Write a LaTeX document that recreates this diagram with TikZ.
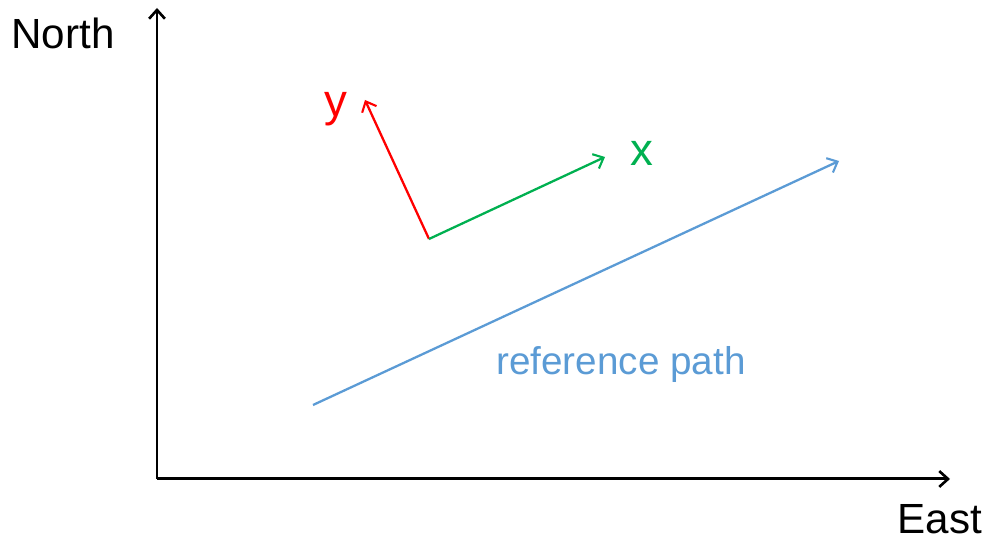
\documentclass[tikz,border=0pt]{standalone}
\usepackage{fontspec}
\setmainfont{Liberation Sans}
\usetikzlibrary{arrows.meta}
\definecolor{framered}{RGB}{255,0,0}
\definecolor{framegreen}{RGB}{0,176,80}
\definecolor{pathblue}{RGB}{91,155,213}
\tikzset{
    axis/.style={line width=1.7pt, -{Straight Barb[length=5pt,width=9pt,line width=1.5pt]}},
    vec/.style={line width=1.3pt, -{Straight Barb[length=5pt,width=9pt,line width=1.2pt]}},
    lbl/.style={inner sep=0pt, font=\fontsize{24}{28}\selectfont}
}
\begin{document}
\begin{tikzpicture}
    \useasboundingbox (0,0) rectangle (19.76,10.8);

    % Axes
    \coordinate (O) at (3.14,1.22);
    \coordinate (N) at (3.14,10.64);
    \coordinate (E) at (19.0,1.22);
    \draw[axis] (O) -- (N);
    \draw[axis] (O) -- (E);
    \node[lbl] (north) at (1.26,10.14) {North};
    \node[lbl] (east) at (18.8,0.42) {East};

    % Body frame
    \coordinate (B) at (8.58,6.02);
    \coordinate (Bx) at (12.10,7.66);
    \coordinate (By) at (7.30,8.80);
    \draw[vec, framered] (B) -- (By);
    \draw[vec, framegreen] (B) -- (Bx);
    \node[lbl, framered, font=\fontsize{26}{30}\selectfont] (ylabel) at (6.72,8.62) {y};
    \node[lbl, framegreen, font=\fontsize{26}{30}\selectfont] (xlabel) at (12.84,7.74) {x};

    % Reference path
    \coordinate (P0) at (6.26,2.70);
    \coordinate (P1) at (16.78,7.58);
    \draw[vec, pathblue] (P0) -- (P1);
    \node[lbl, pathblue, font=\fontsize{22}{26}\selectfont] (refpath) at (12.42,3.5) {reference path};
\end{tikzpicture}
\end{document}
